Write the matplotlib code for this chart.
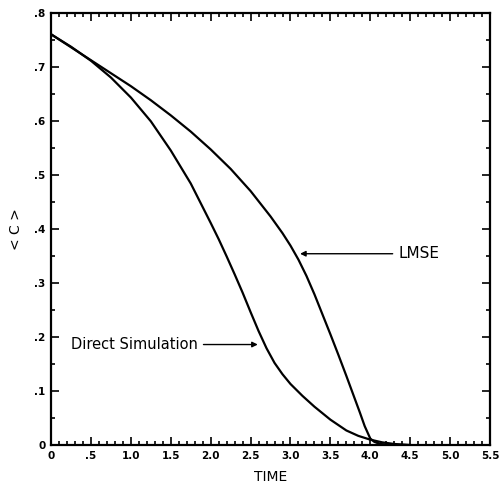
import numpy as np
import matplotlib.pyplot as plt
from matplotlib.ticker import MultipleLocator

# valeurs
t_lmse = [0.0, 0.25, 0.5, 0.75, 1.0, 1.25, 1.5, 1.75, 2.0, 2.25, 2.5, 2.75,
          2.9, 3.0, 3.1, 3.2, 3.3, 3.4, 3.5, 3.6, 3.7, 3.8, 3.87, 3.93,
          4.0, 4.05, 4.12, 4.25, 4.5]
c_lmse = [0.760, 0.736, 0.712, 0.688, 0.664, 0.638, 0.610, 0.580, 0.547,
          0.511, 0.470, 0.423, 0.392, 0.369, 0.343, 0.313, 0.279, 0.242,
          0.205, 0.167, 0.128, 0.088, 0.060, 0.035, 0.012, 0.006, 0.002,
          0.0005, 0.0]

t_direct = [0.0, 0.25, 0.5, 0.75, 1.0, 1.25, 1.5, 1.75, 2.0, 2.1, 2.2, 2.3,
            2.4, 2.5, 2.6, 2.7, 2.8, 2.9, 3.0, 3.15, 3.3, 3.5, 3.7, 3.85,
            4.0, 4.15, 4.3, 4.5]
c_direct = [0.760, 0.737, 0.711, 0.680, 0.643, 0.599, 0.545, 0.484, 0.411,
            0.381, 0.349, 0.316, 0.282, 0.246, 0.211, 0.179, 0.152, 0.131,
            0.113, 0.091, 0.071, 0.047, 0.027, 0.017, 0.010, 0.005, 0.002,
            0.0]

x_ticks = [0, 0.5, 1.0, 1.5, 2.0, 2.5, 3.0, 3.5, 4.0, 4.5, 5.0, 5.5]
x_labels = ['0', '.5', '1.0', '1.5', '2.0', '2.5', '3.0', '3.5', '4.0', '4.5', '5.0', '5.5']
y_ticks = [0, 0.1, 0.2, 0.3, 0.4, 0.5, 0.6, 0.7, 0.8]
y_labels = ['0', '.1', '.2', '.3', '.4', '.5', '.6', '.7', '.8']

fig = plt.figure(figsize=(5.01, 4.88), dpi=100)
ax = fig.add_axes([0.102, 0.088, 0.876, 0.886])

ax.plot(t_lmse, c_lmse, color='black', lw=1.6, solid_joinstyle='round')
ax.plot(t_direct, c_direct, color='black', lw=1.6, solid_joinstyle='round')

ax.set_xlim(0, 5.5)
ax.set_ylim(0, 0.8)

ax.set_xticks(x_ticks)
ax.set_xticklabels(x_labels, fontweight='bold', fontsize=7.5)
ax.set_yticks(y_ticks)
ax.set_yticklabels(y_labels, fontweight='bold', fontsize=7.5)
ax.xaxis.set_minor_locator(MultipleLocator(0.1))
ax.yaxis.set_minor_locator(MultipleLocator(0.05))
ax.tick_params(which='both', direction='in', top=True, right=True, width=1.2)
ax.tick_params(which='major', length=6, pad=4)
ax.tick_params(which='minor', length=3)
for s in ax.spines.values():
    s.set_linewidth(1.6)

ax.set_xlabel('TIME', fontsize=10, labelpad=7)
ax.set_ylabel('< C >', fontsize=10, labelpad=8)

# étiquettes avec flèches
ax.annotate('LMSE', xy=(3.12, 0.354), xytext=(4.35, 0.354),
            fontsize=11, va='center', ha='left',
            arrowprops=dict(arrowstyle='-|>', color='black', lw=1.0,
                            shrinkA=2, shrinkB=0, mutation_scale=8))
ax.annotate('Direct Simulation', xy=(2.59, 0.186), xytext=(0.25, 0.186),
            fontsize=10.5, va='center', ha='left',
            arrowprops=dict(arrowstyle='-|>', color='black', lw=1.0,
                            shrinkA=2, shrinkB=0, mutation_scale=8))

fig.savefig('out.png', dpi=100)
